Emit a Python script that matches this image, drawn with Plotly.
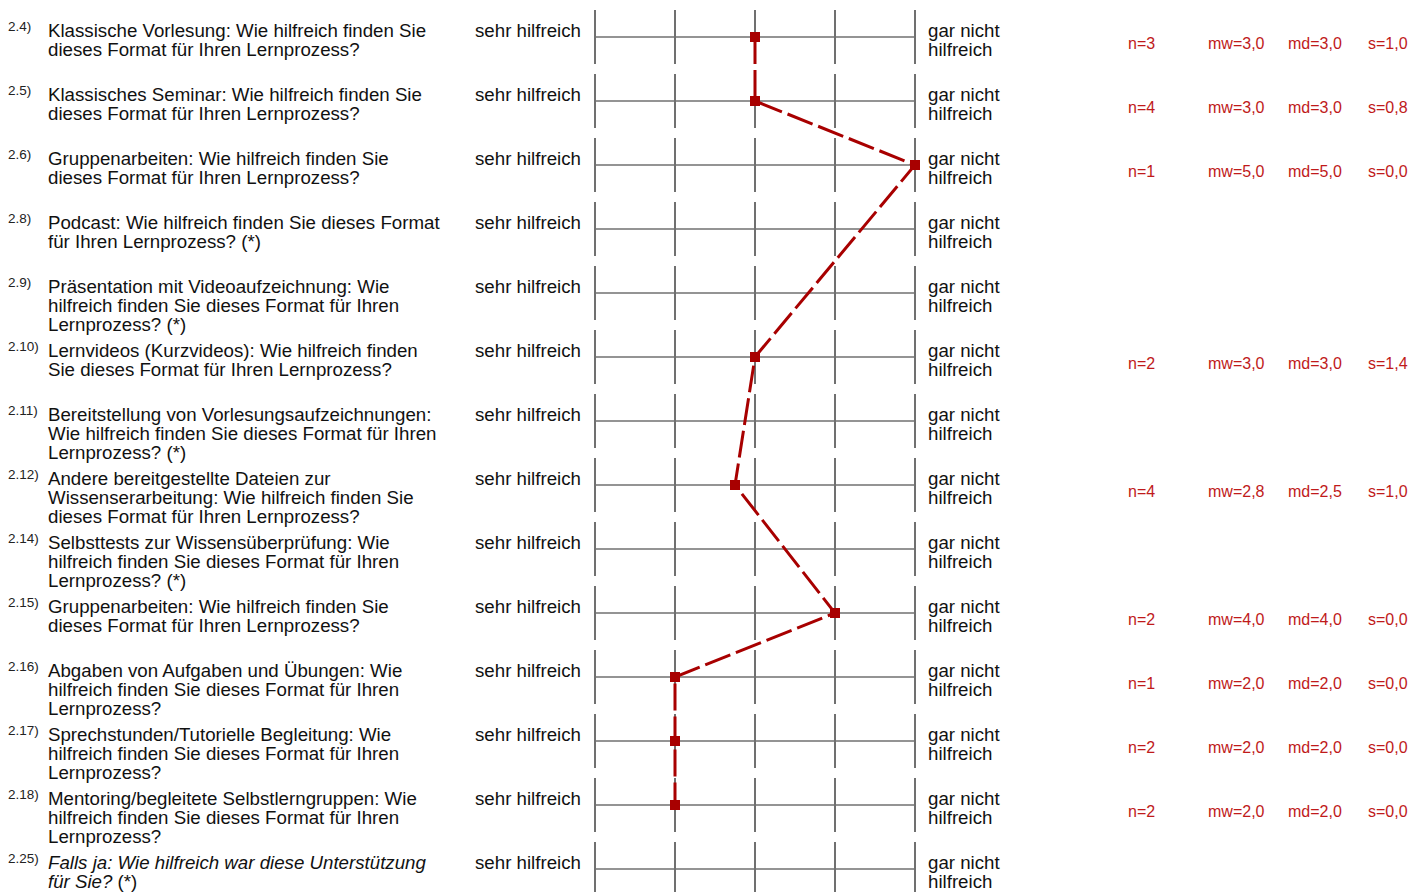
import plotly.graph_objects as go

# Fragen (Nummer, Textzeilen) - eine Zeile pro Item
nummern = ["2.4)", "2.5)", "2.6)", "2.8)", "2.9)", "2.10)", "2.11)", "2.12)",
           "2.14)", "2.15)", "2.16)", "2.17)", "2.18)", "2.25)"]
fragen = [
    ["Klassische Vorlesung: Wie hilfreich finden Sie", "dieses Format für Ihren Lernprozess?"],
    ["Klassisches Seminar: Wie hilfreich finden Sie", "dieses Format für Ihren Lernprozess?"],
    ["Gruppenarbeiten: Wie hilfreich finden Sie", "dieses Format für Ihren Lernprozess?"],
    ["Podcast: Wie hilfreich finden Sie dieses Format", "für Ihren Lernprozess? (*)"],
    ["Präsentation mit Videoaufzeichnung: Wie", "hilfreich finden Sie dieses Format für Ihren", "Lernprozess? (*)"],
    ["Lernvideos (Kurzvideos): Wie hilfreich finden", "Sie dieses Format für Ihren Lernprozess?"],
    ["Bereitstellung von Vorlesungsaufzeichnungen:", "Wie hilfreich finden Sie dieses Format für Ihren", "Lernprozess? (*)"],
    ["Andere bereitgestellte Dateien zur", "Wissenserarbeitung: Wie hilfreich finden Sie", "dieses Format für Ihren Lernprozess?"],
    ["Selbsttests zur Wissensüberprüfung: Wie", "hilfreich finden Sie dieses Format für Ihren", "Lernprozess? (*)"],
    ["Gruppenarbeiten: Wie hilfreich finden Sie", "dieses Format für Ihren Lernprozess?"],
    ["Abgaben von Aufgaben und Übungen: Wie", "hilfreich finden Sie dieses Format für Ihren", "Lernprozess?"],
    ["Sprechstunden/Tutorielle Begleitung: Wie", "hilfreich finden Sie dieses Format für Ihren", "Lernprozess?"],
    ["Mentoring/begleitete Selbstlerngruppen: Wie", "hilfreich finden Sie dieses Format für Ihren", "Lernprozess?"],
    ["<i>Falls ja: Wie hilfreich war diese Unterstützung</i>", "<i>für Sie?</i> (*)"],
]
pol_links = "sehr hilfreich"
pol_rechts = ["gar nicht", "hilfreich"]

# Mittelwerte (None = keine Angabe) und Kennzahlen
mittelwerte = [3.0, 3.0, 5.0, None, None, 3.0, None, 2.75, None, 4.0, 2.0, 2.0, 2.0, None]
n_werte = [3, 4, 1, None, None, 2, None, 4, None, 2, 1, 2, 2, None]
median = [3.0, 3.0, 5.0, None, None, 3.0, None, 2.5, None, 4.0, 2.0, 2.0, 2.0, None]
std_abw = [1.0, 0.8, 0.0, None, None, 1.4, None, 1.0, None, 0.0, 0.0, 0.0, 0.0, None]
skala = [1, 2, 3, 4, 5]

W, H = 1410, 892
ROT = '#a80000'
ROT_TXT = '#c01a1a'
GRAU = '#707070'
SCHRIFT = 'Liberation Sans, Arial, sans-serif'
FS = 18.7

zeilen = list(range(len(fragen)))
X1 = 595   # Pixel für Skalenwert 1
Y0 = 37    # Pixel für erste Zeile

def px(p):
    return p / W

def komma(v):
    return f"{v:.1f}".replace(".", ",")

fig = go.Figure()

fig.add_trace(go.Scatter(
    x=mittelwerte, y=zeilen, mode='lines+markers', connectgaps=True,
    line=dict(color=ROT, width=3, dash='27px,6px'),
    marker=dict(symbol='square', size=10, color=ROT),
    cliponaxis=False, hoverinfo='skip', showlegend=False
))

shapes = []
annotations = []
for i in zeilen:
    for s in skala:
        shapes.append(dict(type='line', xref='x', yref='y', x0=s, x1=s,
                           y0=i - 27 / 64, y1=i + 27 / 64,
                           line=dict(color=GRAU, width=2), layer='below'))
    shapes.append(dict(type='line', xref='x', yref='y', x0=skala[0], x1=skala[-1],
                       y0=i, y1=i, line=dict(color=GRAU, width=1.6), layer='below'))

    annotations.append(dict(text=nummern[i], xref='paper', yref='y', x=px(6), y=i - 11 / 64,
                            xanchor='left', yanchor='middle', showarrow=False,
                            font=dict(size=13.5, color='#222')))
    for k, zeile in enumerate(fragen[i]):
        annotations.append(dict(text=zeile, xref='paper', yref='y', x=px(46),
                                y=i + (-7 + 19 * k) / 64, xanchor='left', yanchor='middle',
                                showarrow=False, font=dict(size=FS, color='#111')))
    annotations.append(dict(text=pol_links, xref='paper', yref='y', x=px(583), y=i - 7 / 64,
                            xanchor='right', yanchor='middle', showarrow=False,
                            font=dict(size=FS, color='#111')))
    for k, zeile in enumerate(pol_rechts):
        annotations.append(dict(text=zeile, xref='paper', yref='y', x=px(926),
                                y=i + (-7 + 19 * k) / 64, xanchor='left', yanchor='middle',
                                showarrow=False, font=dict(size=FS, color='#111')))

    if n_werte[i] is not None:
        stats = [f"n={n_werte[i]}", f"mw={komma(mittelwerte[i])}",
                 f"md={komma(median[i])}", f"s={komma(std_abw[i])}"]
        for xs, t in zip([1126, 1206, 1286, 1366], stats):
            annotations.append(dict(text=t, xref='paper', yref='y', x=px(xs), y=i + 6 / 64,
                                    xanchor='left', yanchor='middle', showarrow=False,
                                    font=dict(size=16, color=ROT_TXT)))

fig.update_layout(
    width=W, height=H,
    margin=dict(l=0, r=0, t=0, b=0),
    paper_bgcolor='white', plot_bgcolor='white',
    font=dict(family=SCHRIFT),
    xaxis=dict(range=[1 - X1 / 80, 1 + (W - X1) / 80], visible=False, fixedrange=True),
    yaxis=dict(range=[(H - Y0) / 64, -Y0 / 64], visible=False, fixedrange=True),
    shapes=shapes, annotations=annotations,
    showlegend=False
)

# Seitenrand entfernen, damit die Figur das Fenster genau füllt
fig.write_html("out.html", config={'displayModeBar': False},
               post_script="document.body.style.margin='0';document.body.style.overflow='hidden';")
